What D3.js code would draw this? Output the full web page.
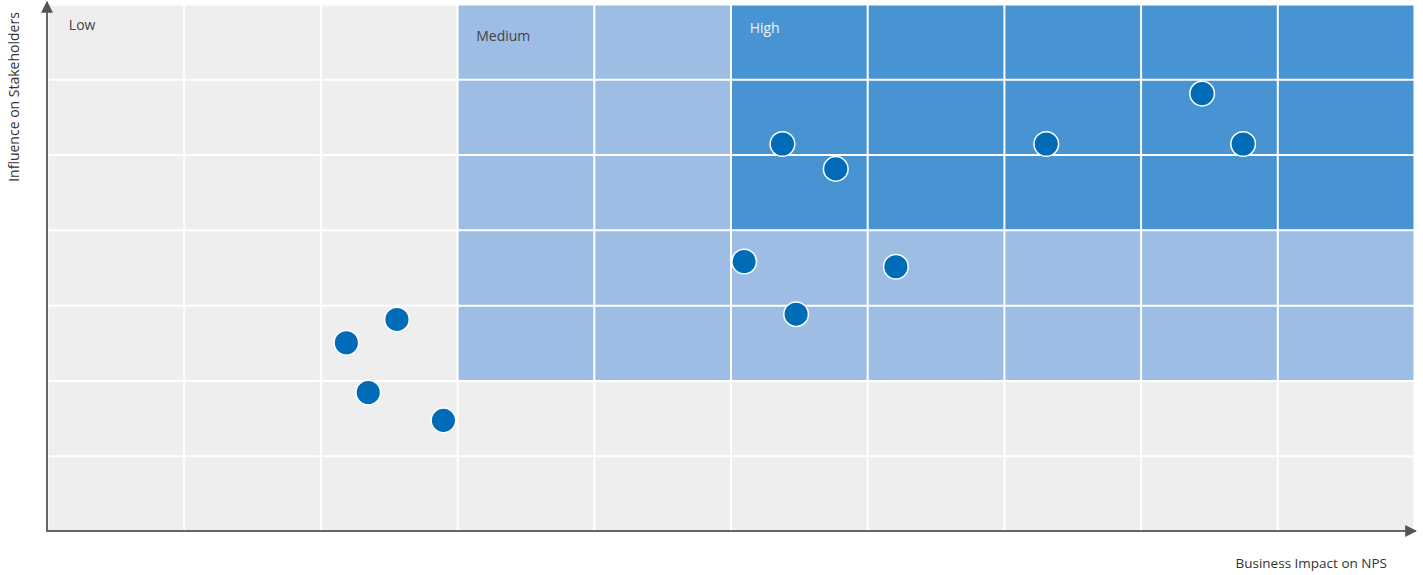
<!DOCTYPE html>
<html>
<head>
<meta charset="utf-8">
<script src="https://cdn.jsdelivr.net/npm/d3@7"></script>
<style>
  body { margin: 0; background: #fff; }
  text { font-family: "Open Sans", "Liberation Sans", sans-serif; }
</style>
</head>
<body>
<div id="chart"></div>
<script>
// grid extent, in cells
var xCells = 10;
var yCells = 7;

// zones: name, x from/to, y from/to (cell units)
var zoneNames = ['Low', 'Medium', 'Medium', 'High'];
var zoneX = [[0, 10], [3, 5], [5, 10], [5, 10]];
var zoneY = [[0, 7], [2, 7], [2, 4], [4, 7]];
var zoneLabelPos = [[0.16, 6.65], [3.14, 6.51], null, [5.14, 6.61]];

// items
var impact    = [2.56, 2.19, 2.35, 2.90, 5.38, 5.77, 5.10, 6.21, 5.48, 8.45, 7.31, 8.75];
var influence = [2.81, 2.50, 1.84, 1.47, 5.14, 4.81, 3.58, 3.51, 2.88, 5.81, 5.14, 5.14];

var xTitle = 'Business Impact on NPS';
var yTitle = 'Influence on Stakeholders';

var width = 1423;
var height = 575;
var margin = {left: 47, right: 9, top: 4, bottom: 44};

var x = d3.scaleLinear().domain([0, xCells]).range([margin.left, width - margin.right]);
var y = d3.scaleLinear().domain([0, yCells]).range([height - margin.bottom, margin.top]);

var zoneColor = {Low: '#eeeeee', Medium: '#9dbde4', High: '#4894d2'};
var labelColor = {Low: '#444', Medium: '#444', High: '#f2f2f2'};

var svg = d3.select('#chart')
    .append('svg')
    .attr('width', width)
    .attr('height', height);

var defs = svg.append('defs');
defs.append('marker')
    .attr('id', 'arrow')
    .attr('viewBox', '0 0 10 10')
    .attr('refX', 9)
    .attr('refY', 5)
    .attr('markerWidth', 6)
    .attr('markerHeight', 6)
    .attr('markerUnits', 'strokeWidth')
    .attr('orient', 'auto')
    .append('path')
    .attr('d', 'M0,0 L10,5 L0,10 z')
    .attr('fill', '#555');

// zone fills
svg.append('g').selectAll('rect')
    .data(zoneNames)
    .enter().append('rect')
    .attr('x', function (d, i) { return x(zoneX[i][0]); })
    .attr('y', function (d, i) { return y(zoneY[i][1]); })
    .attr('width', function (d, i) { return x(zoneX[i][1]) - x(zoneX[i][0]); })
    .attr('height', function (d, i) { return y(zoneY[i][0]) - y(zoneY[i][1]); })
    .attr('fill', function (d) { return zoneColor[d]; });

// white grid lines
var gridX = svg.append('g')
    .attr('transform', 'translate(0,' + y(0) + ')')
    .call(d3.axisBottom(x).ticks(xCells).tickSize(-(y(0) - y(yCells))).tickFormat(''));
var gridY = svg.append('g')
    .attr('transform', 'translate(' + x(0) + ',0)')
    .call(d3.axisLeft(y).ticks(yCells).tickSize(-(x(xCells) - x(0))).tickFormat(''));
[gridX, gridY].forEach(function (g) {
    g.select('.domain').remove();
    g.selectAll('line').attr('stroke', '#fff').attr('stroke-width', 2);
});

// zone labels
var labelIdx = d3.range(zoneNames.length).filter(function (i) { return zoneLabelPos[i]; });
svg.append('g').selectAll('text')
    .data(labelIdx)
    .enter().append('text')
    .attr('x', function (i) { return x(zoneLabelPos[i][0]); })
    .attr('y', function (i) { return y(zoneLabelPos[i][1]); })
    .attr('font-size', 14)
    .attr('fill', function (i) { return labelColor[zoneNames[i]]; })
    .text(function (i) { return zoneNames[i]; });

// axes with arrows
svg.append('line')
    .attr('x1', x(0)).attr('y1', y(0))
    .attr('x2', x(xCells) + 2).attr('y2', y(0))
    .attr('stroke', '#666').attr('stroke-width', 2)
    .attr('marker-end', 'url(#arrow)');
svg.append('line')
    .attr('x1', x(0)).attr('y1', y(0) + 1)
    .attr('x2', x(0)).attr('y2', y(yCells) - 2)
    .attr('stroke', '#666').attr('stroke-width', 2)
    .attr('marker-end', 'url(#arrow)');

// points
svg.append('g').selectAll('circle')
    .data(impact)
    .enter().append('circle')
    .attr('cx', function (d) { return x(d); })
    .attr('cy', function (d, i) { return y(influence[i]); })
    .attr('r', 12.3)
    .attr('fill', '#006cb8')
    .attr('stroke', '#fff')
    .attr('stroke-width', 1.5);

// axis titles
svg.append('text')
    .attr('x', 1387)
    .attr('y', 568)
    .attr('text-anchor', 'end')
    .attr('font-size', 13.5)
    .attr('fill', '#333')
    .text(xTitle);
svg.append('text')
    .attr('transform', 'translate(19,' + 97 + ') rotate(-90)')
    .attr('text-anchor', 'middle')
    .attr('font-size', 14)
    .attr('fill', '#333')
    .text(yTitle);
</script>
</body>
</html>
